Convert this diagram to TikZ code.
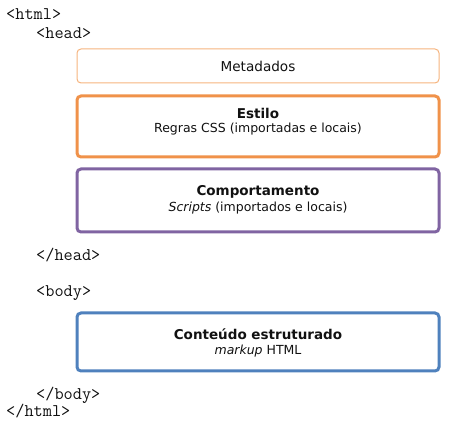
\documentclass[tikz,border=0pt]{standalone}
\usepackage{fontspec}
\setmainfont{DejaVu Sans}
\usepackage{xcolor}
\usetikzlibrary{calc,positioning}
\definecolor{color_meta}{HTML}{F6B47E}
\definecolor{color_style}{HTML}{F0924A}
\definecolor{color_script}{HTML}{8064A2}
\definecolor{color_content}{HTML}{4F81BD}
\definecolor{color_text}{HTML}{111111}

\begin{document}
\begin{tikzpicture}[x=1pt,y=-1pt,color_text,
		tag/.style={font=\ttfamily\fontsize{17.8}{18}\selectfont,anchor=west,inner sep=0},
		block/.style={rounded corners=4pt,minimum width=362pt,inner sep=0,fill=white},
		title/.style={font=\bfseries\fontsize{13.5}{15}\selectfont,inner sep=0},
		detail/.style={font=\fontsize{12.5}{14}\selectfont,inner sep=0}]
	\useasboundingbox (0, 0) rectangle (459, 427);
	% Tags
	\node[tag] (htmlO) at (6, 14) {<html>};
	\node[tag] (headO) at (36, 33) {<head>};
	\node[tag] (headC) at (36, 255) {</head>};
	\node[tag] (bodyO) at (36, 293) {<body>};
	\node[tag] (bodyC) at (36, 395) {</body>};
	\node[tag] (htmlC) at (6, 411) {</html>};

	% Blocks
	\node[block, draw=color_meta, line width=1pt, minimum height=34pt] (meta) at (258, 66) {};
	\node[block, draw=color_style, line width=3pt, minimum height=61pt] (estilo) at (258, 126.5) {};
	\node[block, draw=color_script, line width=3pt, minimum height=63pt] (comp) at (258, 200.5) {};
	\node[block, draw=color_content, line width=3pt, minimum height=58pt] (conteudo) at (258, 342) {};

	% Texts
	\node[detail, font=\fontsize{13.6}{15}\selectfont] (metaT) at (meta) {Metadados};
	\node[title] (estiloT) at (258, 113) {Estilo};
	\node[detail] (estiloD) at (258, 129) {Regras CSS (importadas e locais)};
	\node[title] (compT) at (258, 192) {Comportamento};
	\node[detail] (compD) at (258, 208) {\textit{Scripts} (importados e locais)};
	\node[title] (conteudoT) at (258, 334) {Conteúdo estruturado};
	\node[detail] (conteudoD) at (258, 351) {\textit{markup} HTML};
\end{tikzpicture}
\end{document}
